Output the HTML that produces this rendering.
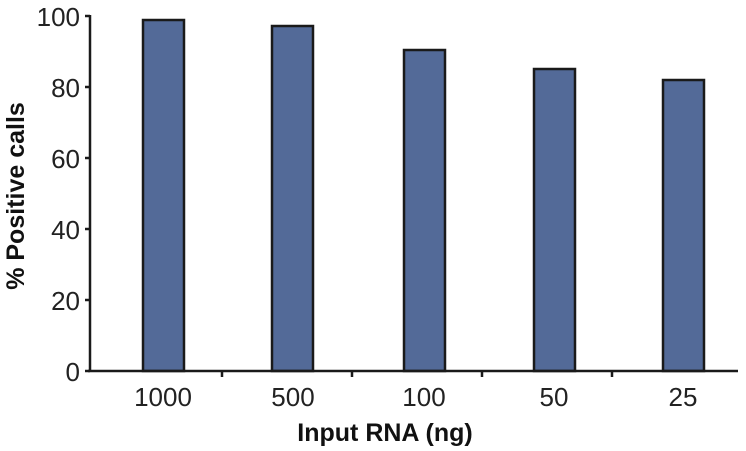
<!DOCTYPE html>
<html><head><style>body{margin:0;background:#fff}</style></head><body>
<svg width="746" height="446" xmlns="http://www.w3.org/2000/svg" font-family="Liberation Sans, sans-serif">
<g fill="#536a98" stroke="#1a1a1a" stroke-width="2.5">
<rect x="143" y="20" width="41" height="351"/>
<rect x="272" y="26" width="41" height="345"/>
<rect x="404" y="50" width="41" height="321"/>
<rect x="534" y="69" width="41" height="302"/>
<rect x="663" y="80" width="41" height="291"/>
</g>
<g stroke="#1a1a1a" stroke-width="2.5" fill="none">
<path d="M90 15 V372 M88 371 H738"/>
<path d="M85 16H90 M85 87H90 M85 158H90 M85 229H90 M85 300H90 M85 371H90"/>
<path d="M222 371v6 M352 371v6 M482 371v6 M612 371v6"/>
</g>
<g font-size="26" fill="#222" text-anchor="end">
<text x="80" y="26">100</text><text x="80" y="97">80</text><text x="80" y="168">60</text>
<text x="80" y="239">40</text><text x="80" y="310">20</text><text x="80" y="381">0</text>
</g>
<g font-size="26" fill="#222" text-anchor="middle">
<text x="163" y="406">1000</text><text x="293" y="406">500</text><text x="424" y="406">100</text>
<text x="554" y="406">50</text><text x="683" y="406">25</text>
</g>
<text x="385" y="441" font-size="25" font-weight="bold" text-anchor="middle" fill="#111">Input RNA (ng)</text>
<text transform="translate(24,196) rotate(-90)" font-size="25" font-weight="bold" text-anchor="middle" fill="#111">% Positive calls</text>
</svg>
</body></html>
